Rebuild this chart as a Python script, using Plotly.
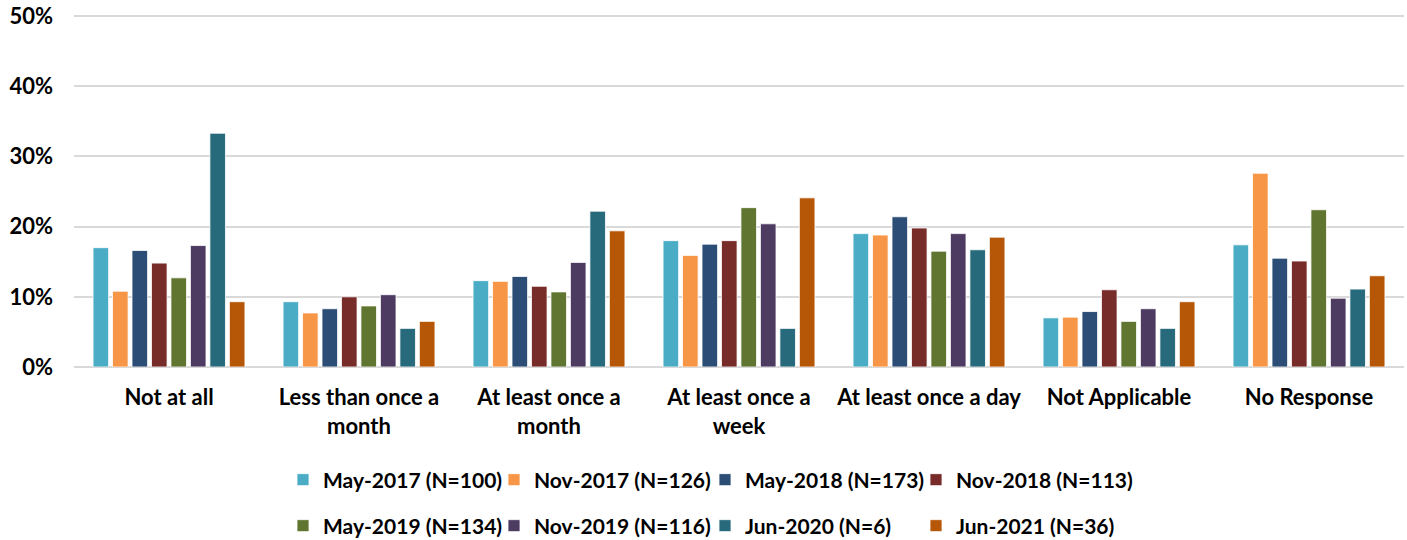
import plotly.graph_objects as go

categories = ["Not at all", "Less than once a<br>month", "At least once a<br>month",
              "At least once a<br>week", "At least once a day", "Not Applicable", "No Response"]

series_names = ["May-2017 (N=100)", "Nov-2017 (N=126)", "May-2018 (N=173)", "Nov-2018 (N=113)",
                "May-2019 (N=134)", "Nov-2019 (N=116)", "Jun-2020 (N=6)", "Jun-2021 (N=36)"]

may_2017 = [17.0, 9.3, 12.3, 18.0, 19.0, 7.0, 17.4]
nov_2017 = [10.8, 7.7, 12.2, 15.9, 18.8, 7.1, 27.6]
may_2018 = [16.6, 8.3, 12.9, 17.5, 21.4, 7.9, 15.5]
nov_2018 = [14.8, 10.0, 11.5, 18.0, 19.8, 11.0, 15.1]
may_2019 = [12.7, 8.7, 10.7, 22.7, 16.5, 6.5, 22.4]
nov_2019 = [17.3, 10.3, 14.9, 20.4, 19.0, 8.3, 9.8]
jun_2020 = [33.3, 5.5, 22.2, 5.5, 16.7, 5.5, 11.1]
jun_2021 = [9.3, 6.5, 19.4, 24.1, 18.5, 9.3, 13.0]

y_tick_values = [0, 10, 20, 30, 40, 50]
y_tick_labels = ["0%", "10%", "20%", "30%", "40%", "50%"]

series_values = [may_2017, nov_2017, may_2018, nov_2018, may_2019, nov_2019, jun_2020, jun_2021]
colors = ["#4BACC6", "#F79646", "#2C4D75", "#772C2A", "#5F7530", "#4D3B62", "#276A7C", "#B65708"]

FONT = "Lato"
W, H = 1407, 540

# legend layout: 4 columns x 2 rows (left edge x, centre y, in figure pixels)
legend_cols = [283, 494, 705, 916]
legend_rows = [480, 526]

fig = go.Figure()
for i, (name, vals, col) in enumerate(zip(series_names, series_values, colors)):
    lid = "legend" if i == 0 else f"legend{i + 1}"
    fig.add_trace(go.Bar(
        x=categories, y=vals, name=name,
        marker=dict(color=col, line=dict(color="white", width=0.8)),
        legend=lid,
    ))

legend_layouts = {}
for i in range(len(series_names)):
    lid = "legend" if i == 0 else f"legend{i + 1}"
    legend_layouts[lid] = dict(
        orientation="h", xanchor="left", yanchor="middle",
        xref="container", yref="container",
        x=legend_cols[i % 4] / W, y=1 - legend_rows[i // 4] / H,
        font=dict(family=FONT, size=21, color="#000000", weight="bold"),
        itemwidth=30, bgcolor="rgba(0,0,0,0)",
    )

fig.update_layout(
    width=W, height=H,
    margin=dict(l=74, r=3, t=14, b=173, autoexpand=False),
    paper_bgcolor="white", plot_bgcolor="white",
    barmode="group", bargap=0.18, bargroupgap=0.2,
    font=dict(family=FONT, size=22, color="#000000"),
    showlegend=True,
    xaxis=dict(
        showgrid=False, showline=False, ticks="", automargin=False,
        tickfont=dict(family=FONT, size=22, color="#000000", weight="bold"),
        ticklabelstandoff=15,
    ),
    yaxis=dict(
        range=[0, 50.285], tickmode="array", tickvals=y_tick_values, ticktext=y_tick_labels,
        automargin=False,
        showgrid=True, gridcolor="#D9D9D9", gridwidth=2,
        zeroline=True, zerolinecolor="#D9D9D9", zerolinewidth=2,
        showline=False, ticks="", ticklabeloverflow="allow",
        tickfont=dict(family=FONT, size=22, color="#000000", weight="bold"),
        ticklabelstandoff=20,
    ),
    **legend_layouts,
)

# remove the default 8px page margin so the figure fills the window exactly
fig.write_html("out.html", config={"displayModeBar": False},
               post_script="document.body.style.margin='0';")
